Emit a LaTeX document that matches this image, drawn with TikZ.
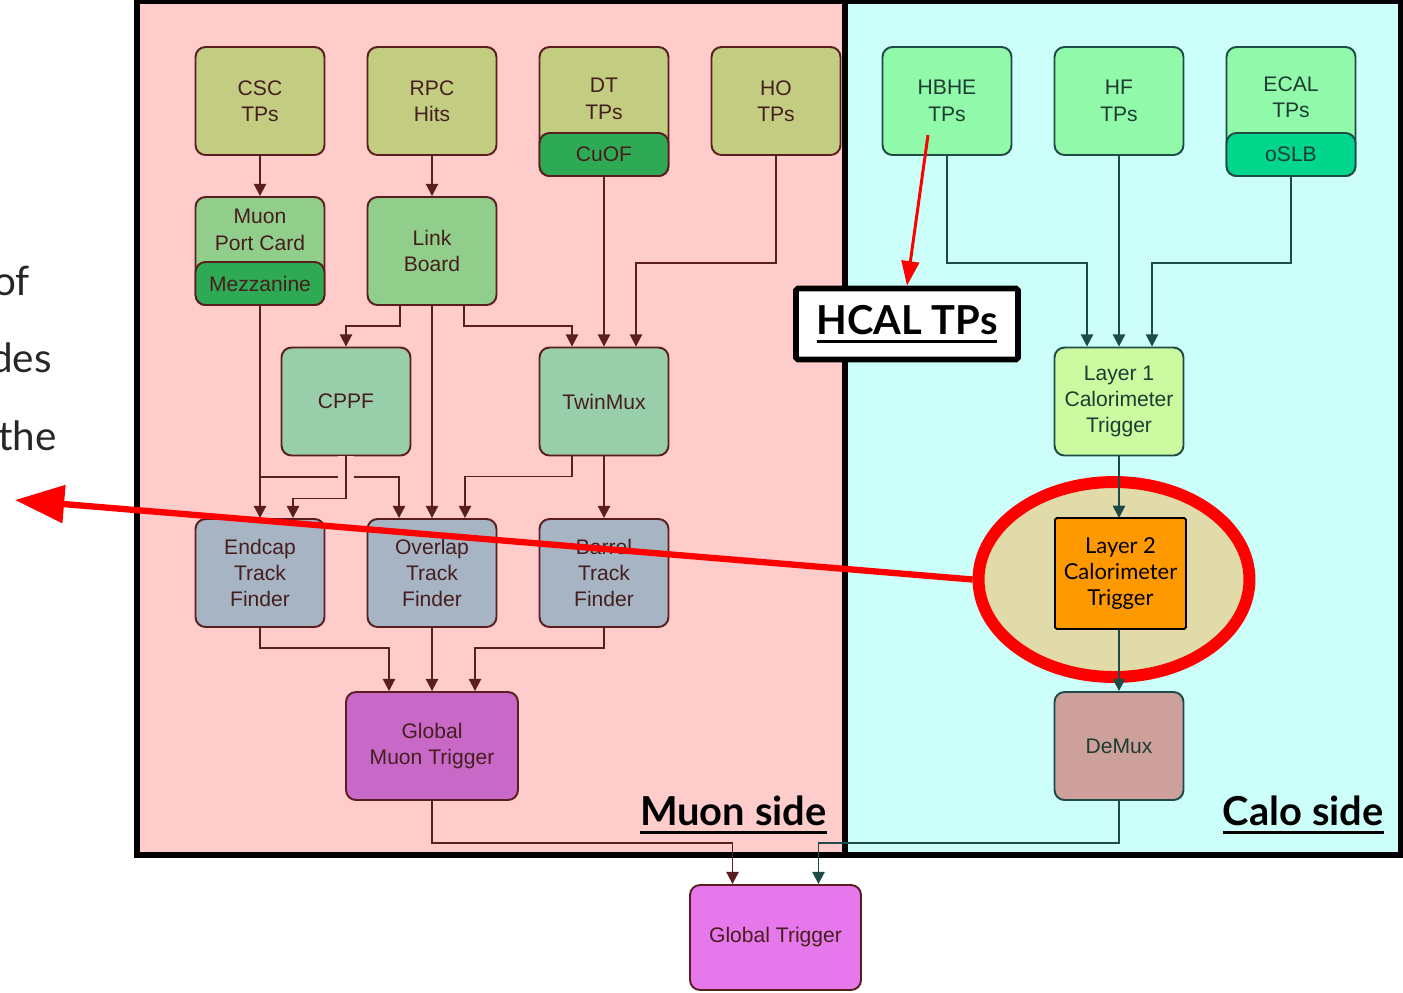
\documentclass[tikz,border=0pt]{standalone}
\usepackage{fontspec}
\setmainfont{Liberation Sans}
\newfontfamily\slidefont{Lato}
\usetikzlibrary{arrows.meta,calc,shapes.geometric}

\definecolor{muonbg}{RGB}{255,204,204}
\definecolor{calobg}{RGB}{204,255,250}
\definecolor{tpolive}{RGB}{195,205,130}
\definecolor{subgreen}{RGB}{46,170,84}
\definecolor{brdgreen}{RGB}{145,206,140}
\definecolor{procgreen}{RGB}{152,206,170}
\definecolor{tfgray}{RGB}{166,180,196}
\definecolor{gmtpurple}{RGB}{200,105,200}
\definecolor{gtpink}{RGB}{230,120,235}
\definecolor{calotp}{RGB}{145,250,170}
\definecolor{oslbgreen}{RGB}{0,215,140}
\definecolor{layerone}{RGB}{204,250,160}
\definecolor{layertwo}{RGB}{255,153,0}
\definecolor{demuxrose}{RGB}{205,160,155}
\definecolor{muonline}{RGB}{90,30,30}
\definecolor{caloline}{RGB}{30,75,70}
\definecolor{muontext}{RGB}{70,30,30}
\definecolor{calotext}{RGB}{30,60,50}
\definecolor{halofill}{RGB}{244,185,90}
\definecolor{annored}{RGB}{255,0,0}

\newcommand{\thickul}[1]{\setbox0\hbox{#1}\rlap{\rule[-5pt]{\wd0}{1.7pt}}\box0}

\tikzset{
    blk/.style={rectangle, rounded corners=0.2cm, line width=1.1pt,
        minimum width=2.58cm, minimum height=2.16cm, align=center, inner sep=0pt,
        font=\fontsize{12}{15}\selectfont},
    muonblk/.style={blk, draw=muonline, text=muontext},
    caloblk/.style={blk, draw=caloline, text=calotext},
    subblk/.style={minimum height=0.86cm},
    blklbl/.style={align=center, inner sep=0pt, font=\fontsize{12}{15}\selectfont},
    mwire/.style={draw=muonline, line width=1.1pt, -{Triangle[length=7pt,width=7pt]}},
    cwire/.style={draw=caloline, line width=1.1pt, -{Triangle[length=7pt,width=7pt]}},
    sidelbl/.style={anchor=base east, inner sep=0pt, font=\slidefont\bfseries\fontsize{22.7}{27}\selectfont},
    slidetxt/.style={anchor=base east, inner sep=0pt, text=black!85, font=\slidefont\fontsize{23}{27}\selectfont},
}

\begin{document}
\begin{tikzpicture}[x=0.02cm, y=-0.02cm]
    \useasboundingbox (0,0) rectangle (1403,992);

    % panels
    \fill[muonbg] (137,1) rectangle (845,855);
    \fill[calobg] (845,1) rectangle (1401,855);
    \draw[line width=3.2pt] (137,1) rectangle (1401,855);
    \draw[line width=3.2pt] (845,1) -- (845,855);

    % slide text cut at the left edge
    \node[slidetxt] (frag1) at (30,295) {of};
    \node[slidetxt] (frag2) at (52,372) {des};
    \node[slidetxt] (frag3) at (57,450) {the};

    % muon side
    \node[muonblk, fill=tpolive] (csc) at (260,101) {CSC\\TPs};
    \node[muonblk, fill=tpolive] (rpc) at (432,101) {RPC\\Hits};
    \node[muonblk, fill=tpolive, minimum height=2.58cm] (dt) at (604,111.5) {};
    \node[muonblk, subblk, fill=subgreen] (cuof) at (604,154.5) {CuOF};
    \node[blklbl, text=muontext] (dtlbl) at (604,99) {DT\\TPs};
    \node[muonblk, fill=tpolive] (ho) at (776,101) {HO\\TPs};

    \node[muonblk, fill=brdgreen] (mpc) at (260,251) {};
    \node[muonblk, subblk, fill=subgreen] (mezz) at (260,283.5) {Mezzanine};
    \node[blklbl, text=muontext] (mpclbl) at (260,230) {Muon\\Port Card};
    \node[muonblk, fill=brdgreen] (lb) at (432,251) {Link\\Board};

    \node[muonblk, fill=procgreen] (cppf) at (346,401.5) {CPPF};
    \node[muonblk, fill=procgreen] (twinmux) at (604,401.5) {TwinMux};

    \node[muonblk, fill=tfgray] (emtf) at (260,573) {Endcap\\Track\\Finder};
    \node[muonblk, fill=tfgray] (omtf) at (432,573) {Overlap\\Track\\Finder};
    \node[muonblk, fill=tfgray] (bmtf) at (604,573) {Barrel\\Track\\Finder};

    \node[muonblk, fill=gmtpurple, minimum width=3.44cm] (gmt) at (432,746) {Global\\Muon Trigger};
    \node[muonblk, fill=gtpink, minimum width=3.42cm, minimum height=2.1cm] (gt) at (775.5,937.5) {Global Trigger};

    % calo side
    \node[caloblk, fill=calotp] (hbhe) at (947,101) {HBHE\\TPs};
    \node[caloblk, fill=calotp] (hf) at (1119,101) {HF\\TPs};
    \node[caloblk, fill=calotp, minimum height=2.58cm] (ecal) at (1291,111.5) {};
    \node[caloblk, subblk, fill=oslbgreen] (oslb) at (1291,154.5) {oSLB};
    \node[blklbl, text=calotext] (ecallbl) at (1291,97) {ECAL\\TPs};
    \node[caloblk, fill=layerone] (l1) at (1119,401.5) {Layer 1\\Calorimeter\\Trigger};
    \node[caloblk, fill=demuxrose] (demux) at (1119,746) {DeMux};

    % muon links
    \draw[mwire] (csc) -- (mpc);
    \draw[mwire] (rpc) -- (lb);
    \draw[mwire] ($(lb.south)+(-32,0)$) -- ++(0,20) -| (cppf.north);
    \draw[mwire] (lb) -- (omtf);
    \draw[mwire] ($(lb.south)+(32,0)$) -- ++(0,20) -| ($(twinmux.north)+(-32,0)$);
    \draw[mwire] (cuof) -- (twinmux);
    \draw[mwire] (ho.south) -- ++(0,107) -| ($(twinmux.north)+(32,0)$);
    \draw[mwire] (mezz) -- (emtf);
    \draw[mwire] ($(mezz.south)+(0,171)$) -| ($(omtf.north)+(-33,0)$);
    \draw[mwire, preaction={draw=muonbg, line width=9pt, -}] (cppf.south) -- ++(0,42) -| ($(emtf.north)+(33,0)$);
    \draw[mwire] ($(twinmux.south)+(-32,0)$) -- ++(0,20) -| ($(omtf.north)+(33,0)$);
    \draw[mwire] (twinmux) -- (bmtf);
    \draw[mwire] (emtf.south) -- ++(0,20) -| ($(gmt.north)+(-43,0)$);
    \draw[mwire] (omtf) -- (gmt);
    \draw[mwire] (bmtf.south) -- ++(0,20) -| ($(gmt.north)+(43,0)$);
    \draw[mwire] (gmt.south) -- ++(0,42) -| ($(gt.north)+(-43,0)$);

    % calo links
    \draw[cwire] (hbhe.south) -- ++(0,107) -| ($(l1.north)+(-32,0)$);
    \draw[cwire] (hf) -- (l1);
    \draw[cwire] (oslb.south) -- ++(0,86) -| ($(l1.north)+(33,0)$);
    \draw[cwire] (demux.south) -- ++(0,42) -| ($(gt.north)+(43,0)$);

    % highlighted layer 2
    \node[ellipse, draw=annored, line width=6.8pt, fill=halofill, fill opacity=0.5,
        draw opacity=1, minimum width=5.42cm, minimum height=3.9cm] (halo) at (1114,579.5) {};
    \draw[cwire] (l1) -- (1119,518);
    \draw[cwire] (1119,629) -- (demux);
    \node[rectangle, rounded corners=1pt, draw=black, line width=1.1pt, fill=layertwo,
        minimum width=2.62cm, minimum height=2.22cm, align=center, inner sep=0pt,
        font=\slidefont\fontsize{12.5}{14.8}\selectfont] (l2) at (1120.5,573.5) {Layer 2\\Calorimeter\\Trigger};

    % annotations
    \node[rectangle, rounded corners=1pt, draw=black, fill=white, line width=3.2pt,
        minimum width=4.44cm, minimum height=1.42cm, inner sep=0pt,
        font=\slidefont\bfseries\fontsize{22.7}{27}\selectfont] (hcal) at (907,324) {\thickul{HCAL TPs}};
    \draw[annored, line width=1.7pt, -{Triangle[length=14pt,width=10pt]}] ($(hbhe)+(-19,34)$) -- (hcal.north);
    \coordinate (tip) at (15,500);
    \draw[annored, line width=3.6pt, -{Triangle[length=28pt,width=21pt]}] (halo.west) -- (tip);

    \node[sidelbl] (muonside) at (827,825) {\thickul{Muon side}};
    \node[sidelbl] (caloside) at (1384,825) {\thickul{Calo side}};
\end{tikzpicture}
\end{document}
